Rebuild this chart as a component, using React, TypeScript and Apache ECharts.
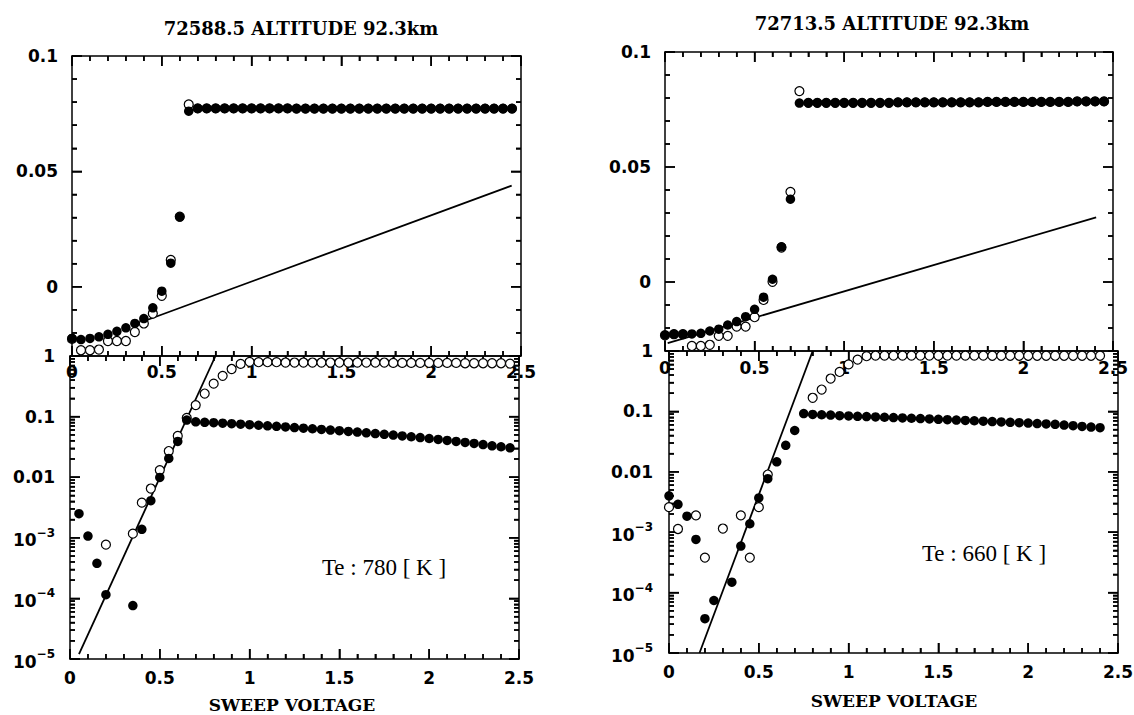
import React, { useEffect, useRef } from 'react';
import * as echarts from 'echarts';

// ---------- data ----------
const SWEEP = [0, 0.05, 0.1, 0.15, 0.2, 0.25, 0.3, 0.35, 0.4, 0.45, 0.5, 0.55, 0.6, 0.65, 0.7, 0.75, 0.8, 0.85, 0.9, 0.95,
  1, 1.05, 1.1, 1.15, 1.2, 1.25, 1.3, 1.35, 1.4, 1.45, 1.5, 1.55, 1.6, 1.65, 1.7, 1.75, 1.8, 1.85, 1.9, 1.95,
  2, 2.05, 2.1, 2.15, 2.2, 2.25, 2.3, 2.35, 2.4, 2.45];

const X_TICKS = [0, 0.5, 1, 1.5, 2, 2.5];
const X_MINOR = [0.1, 0.2, 0.3, 0.4, 0.6, 0.7, 0.8, 0.9, 1.1, 1.2, 1.3, 1.4, 1.6, 1.7, 1.8, 1.9, 2.1, 2.2, 2.3, 2.4];
const LIN_MAJOR = [0, 0.05, 0.1];
const LIN_MINOR = [-0.03, -0.02, -0.01, 0.01, 0.02, 0.03, 0.04, 0.06, 0.07, 0.08, 0.09];
const LOG_MAJOR = [1e-5, 1e-4, 1e-3, 0.01, 0.1, 1];
const LOG_MINOR: number[] = [];
for (let e = -5; e <= -1; e++) for (let m = 2; m <= 9; m++) LOG_MINOR.push(m * Math.pow(10, e));

const TITLE_L = '72588.5 ALTITUDE 92.3km';
const TITLE_R = '72713.5 ALTITUDE 92.3km';
const XNAME = 'SWEEP VOLTAGE';
const TE_L = 'Te : 780 [ K ]';
const TE_R = 'Te : 660 [ K ]';

// left column, linear panel
const TL_FILLED = [-0.0224, -0.0229, -0.0224, -0.0217, -0.0206, -0.0193, -0.0178, -0.0159, -0.0138, -0.0091, -0.0019, 0.0102, 0.0302, 0.0761,
  0.0773, 0.0773, 0.0773, 0.0773, 0.0773, 0.0773, 0.0773, 0.0773, 0.0773, 0.0773,
  0.0773, 0.0772, 0.0772, 0.0772, 0.0772, 0.0772, 0.0772, 0.0772, 0.0772, 0.0772,
  0.0772, 0.0772, 0.0772, 0.0772, 0.0772, 0.0772, 0.0772, 0.0772, 0.0772, 0.0772,
  0.0772, 0.0772, 0.0772, 0.0772, 0.0772, 0.0772];
const TL_OPEN = [-0.0226, -0.0275, -0.0275, -0.0272, -0.0235, -0.0235, -0.0235, -0.0196, -0.0159, -0.0116, -0.0039, 0.0116, 0.0304, 0.0790,
  0.0773, 0.0773, 0.0773, 0.0773, 0.0773, 0.0773, 0.0773, 0.0773, 0.0773, 0.0773,
  0.0773, 0.0772, 0.0772, 0.0772, 0.0772, 0.0772, 0.0772, 0.0772, 0.0772, 0.0772,
  0.0772, 0.0772, 0.0772, 0.0772, 0.0772, 0.0772, 0.0772, 0.0772, 0.0772, 0.0772,
  0.0772, 0.0772, 0.0772, 0.0772, 0.0772, 0.0772];
const TL_FIT_V = [0.414, 2.448];
const TL_FIT = [-0.0145, 0.0438];

// left column, log panel
const BL_FILLED = [null, 2.5e-3, 1.07e-3, 3.8e-4, 1.15e-4, null, null, 7.6e-5, 1.38e-3, 4.1e-3, 9.9e-3, 0.0204, 0.039, 0.0875,
  0.082, 0.0805, 0.0795, 0.078, 0.0765, 0.075,
  0.0735, 0.072, 0.0705, 0.069, 0.0675,
  0.066, 0.0645, 0.063, 0.0615, 0.060,
  0.0585, 0.057, 0.0555, 0.054, 0.0525,
  0.051, 0.0495, 0.048, 0.0465, 0.045,
  0.0435, 0.042, 0.0405, 0.039, 0.0375,
  0.036, 0.0345, 0.033, 0.0318, 0.0305];
const BL_OPEN = [null, null, null, null, 7.7e-4, null, null, 1.17e-3, 3.8e-3, 6.5e-3, 0.0131, 0.027, 0.048, 0.095,
  0.155, 0.24, 0.35, 0.47, 0.61, 0.74, 0.80,
  0.79, 0.79, 0.79, 0.78, 0.78, 0.78, 0.78, 0.78, 0.78, 0.78,
  0.78, 0.78, 0.78, 0.78, 0.78, 0.77, 0.77, 0.77, 0.77, 0.77,
  0.77, 0.77, 0.77, 0.76, 0.76, 0.76, 0.76, 0.76, 0.75];
const BL_FIT_V = [0.05, 0.81];
const BL_FIT = [1.2e-5, 1.0];

// right column, linear panel
const TR_FILLED = [-0.0230, -0.0227, -0.0227, -0.0226, -0.0223, -0.0213, -0.0205, -0.0187, -0.0172, -0.0151, -0.0119, -0.0066, 0.0012, 0.0153, 0.0360, 0.0778,
  0.0779, 0.0779, 0.0779, 0.0779, 0.0779, 0.0779, 0.0779, 0.0779, 0.0779, 0.0779,
  0.0781, 0.0781, 0.0781, 0.0781, 0.0781, 0.0781, 0.0781, 0.0781, 0.0781, 0.0781,
  0.0783, 0.0783, 0.0783, 0.0783, 0.0783, 0.0783, 0.0783, 0.0783, 0.0783, 0.0783,
  0.0785, 0.0785, 0.0785, 0.0785];
const TR_OPEN = [-0.0232, -0.0227, -0.0227, -0.0278, -0.0278, -0.0273, -0.0234, -0.0234, -0.0194, -0.0194, -0.0153, -0.0078, 0.0001, 0.0150, 0.0392, 0.0830,
  0.0779, 0.0779, 0.0779, 0.0779, 0.0779, 0.0779, 0.0779, 0.0779, 0.0779, 0.0779,
  0.0781, 0.0781, 0.0781, 0.0781, 0.0781, 0.0781, 0.0781, 0.0781, 0.0781, 0.0781,
  0.0783, 0.0783, 0.0783, 0.0783, 0.0783, 0.0783, 0.0783, 0.0783, 0.0783, 0.0783,
  0.0785, 0.0785, 0.0785, 0.0785];
const TR_FIT_V = [0.015, 2.406];
const TR_FIT = [-0.0266, 0.0281];

// right column, log panel
const BR_FILLED = [4.0e-3, 2.9e-3, 1.84e-3, 7.6e-4, 3.7e-5, 7.4e-5, null, 1.49e-4, 5.9e-4, 1.38e-3, 3.7e-3, 7.7e-3, 0.0146, 0.0275, 0.0483, 0.092,
  0.089, 0.088, 0.087, 0.085,
  0.084, 0.083, 0.082, 0.081, 0.080,
  0.079, 0.078, 0.077, 0.076, 0.075,
  0.074, 0.073, 0.072, 0.071, 0.070,
  0.069, 0.068, 0.067, 0.066, 0.065,
  0.064, 0.063, 0.062, 0.061, 0.0595,
  0.058, 0.0565, 0.055, 0.0537, null];
const BR_OPEN = [2.6e-3, 1.13e-3, null, 1.9e-3, 3.8e-4, null, 1.15e-3, null, 1.9e-3, 3.8e-4, 2.6e-3, 9.0e-3, null, null, null, null,
  0.168, 0.23, 0.35, 0.45, 0.6, 0.72, 0.82,
  0.84, 0.84, 0.84, 0.84, 0.84, 0.84, 0.84, 0.84, 0.84, 0.84, 0.84, 0.84, 0.84,
  0.835, 0.835, 0.835, 0.835, 0.835, 0.835, 0.835, 0.835, 0.835, 0.835, 0.835, 0.835, 0.835,
  null];
const BR_FIT_V = [0.17, 0.80];
const BR_FIT = [1e-5, 1.0];

// ---------- helpers ----------
const LINE = { color: '#000', width: 1.5 };
const TICK_FONT = { color: '#000', fontFamily: 'DejaVu Sans', fontWeight: 'bold', fontSize: 17 };
const lg = (v: number) => Math.log10(v);

function pairs(xs: number[], ys: (number | null)[], isLog: boolean) {
  const out: number[][] = [];
  xs.forEach((x, i) => {
    const y = ys[i];
    if (y !== null && y !== undefined) out.push([x, isLog ? lg(y) : y]);
  });
  return out;
}

function xAxes(grid: number, margin: number) {
  const base: any = {
    gridIndex: grid, type: 'value', min: 0, max: 2.5, interval: 0.5,
    splitLine: { show: false },
  };
  const main = (pos: string, withLabel: boolean) => ({
    ...base, position: pos,
    axisLine: { show: true, onZero: false, lineStyle: LINE },
    axisTick: { show: true, inside: true, length: 10, customValues: X_TICKS, lineStyle: LINE },
    axisLabel: withLabel
      ? { show: true, margin, showMinLabel: true, showMaxLabel: true, customValues: X_TICKS, ...TICK_FONT }
      : { show: false },
  });
  const minor = (pos: string) => ({
    ...base, position: pos,
    axisLine: { show: false, onZero: false },
    axisTick: { show: true, inside: true, length: 5, customValues: X_MINOR, lineStyle: LINE },
    axisLabel: { show: false },
  });
  return [main('bottom', true), minor('bottom'), main('top', false), minor('top')];
}

// log panels: the value axis runs in decades (log10 of the plotted quantity)
function logLabel(v: number) {
  const e = Math.round(v);
  if (e === 0) return '1';
  if (e === -1) return '0.1';
  if (e === -2) return '0.01';
  return '{b|10}{s|\u2212' + (-e) + '}';
}
function linLabel(v: number) {
  if (Math.abs(v) < 1e-9) return '0';
  return String(Math.round(v * 100) / 100);
}

function yAxes(grid: number, isLog: boolean, margin: number) {
  const common: any = isLog ? { type: 'value', min: lg(1e-5), max: lg(1) } : { type: 'value', min: -0.03, max: 0.1 };
  const major = isLog ? LOG_MAJOR.map(lg) : LIN_MAJOR;
  const minor = isLog ? LOG_MINOR.map(lg) : LIN_MINOR;
  const mk = (pos: string, withLabel: boolean) => [
    {
      gridIndex: grid, ...common, position: pos,
      splitLine: { show: false },
      axisLine: { show: true, onZero: false, lineStyle: LINE },
      axisTick: { show: true, inside: true, length: 10, customValues: major, lineStyle: LINE },
      axisLabel: withLabel ? {
        show: true, margin, customValues: major, ...TICK_FONT,
        formatter: isLog ? logLabel : linLabel,
        rich: {
          b: { fontFamily: 'DejaVu Sans', fontWeight: 'bold', fontSize: 17, color: '#000', lineHeight: 22, verticalAlign: 'bottom' },
          s: { fontFamily: 'DejaVu Sans', fontWeight: 'bold', fontSize: 12, color: '#000', lineHeight: 12, verticalAlign: 'top' },
        },
      } : { show: false },
    },
    {
      gridIndex: grid, ...common, position: pos,
      splitLine: { show: false },
      axisLine: { show: false, onZero: false },
      axisTick: { show: true, inside: true, length: 5, customValues: minor, lineStyle: LINE },
      axisLabel: { show: false },
    },
  ];
  return [...mk('left', true), ...mk('right', false)];
}

// tick marks on all four frame edges, placed through the grid's own coordinate system
function tickSeries(grid: number, isLog: boolean) {
  const yMin = isLog ? lg(1e-5) : -0.03;
  const yMax = isLog ? lg(1) : 0.1;
  const items: number[][] = [];
  X_TICKS.forEach((v) => items.push([0, v, 10]));
  X_MINOR.forEach((v) => items.push([0, v, 5]));
  (isLog ? LOG_MAJOR.map(lg) : LIN_MAJOR).forEach((v) => items.push([1, v, 10]));
  (isLog ? LOG_MINOR.map(lg) : LIN_MINOR).forEach((v) => items.push([1, v, 5]));
  return {
    type: 'custom', xAxisIndex: grid * 4, yAxisIndex: grid * 4, silent: true, z: 1,
    data: items,
    renderItem: (params: any, api: any) => {
      const kind = api.value(0);
      const v = api.value(1);
      const len = api.value(2);
      const style = { stroke: '#000', lineWidth: 1.5 };
      if (kind === 0) {
        const top = api.coord([v, yMax]);
        const bot = api.coord([v, yMin]);
        return {
          type: 'group', children: [
            { type: 'line', shape: { x1: top[0], y1: top[1], x2: top[0], y2: top[1] + len }, style },
            { type: 'line', shape: { x1: bot[0], y1: bot[1], x2: bot[0], y2: bot[1] - len }, style },
          ],
        };
      }
      const l = api.coord([0, v]);
      const r = api.coord([2.5, v]);
      return {
        type: 'group', children: [
          { type: 'line', shape: { x1: l[0], y1: l[1], x2: l[0] + len, y2: l[1] }, style },
          { type: 'line', shape: { x1: r[0], y1: r[1], x2: r[0] - len, y2: r[1] }, style },
        ],
      };
    },
  };
}

function panelSeries(grid: number, isLog: boolean, open: (number | null)[], filled: (number | null)[], fitV: number[], fit: number[]) {
  const xi = grid * 4;
  const yi = grid * 4;
  return [
    tickSeries(grid, isLog),
    { type: 'line', xAxisIndex: xi, yAxisIndex: yi, data: pairs(fitV, fit, isLog), showSymbol: false, symbol: 'none', clip: false,
      lineStyle: { color: '#000', width: 1.8 }, z: 2, silent: true },
    { type: 'scatter', xAxisIndex: xi, yAxisIndex: yi, data: pairs(SWEEP, open, isLog), symbol: 'circle', symbolSize: 9, clip: false,
      itemStyle: { color: '#fff', borderColor: '#000', borderWidth: 1.2, opacity: 1 }, z: 3, silent: true },
    { type: 'scatter', xAxisIndex: xi, yAxisIndex: yi, data: pairs(SWEEP, filled, isLog), symbol: 'circle', symbolSize: 9.5, clip: false,
      itemStyle: { color: '#000', opacity: 1 }, z: 4, silent: true },
  ];
}

function txt(text: string, x: number, y: number, font: string) {
  return { type: 'text', x, y, silent: true, style: { text, font, fill: '#000', textAlign: 'center', textVerticalAlign: 'middle', align: 'center', verticalAlign: 'middle' } };
}

export default function App() {
  const ref = useRef<HTMLDivElement>(null);
  useEffect(() => {
    if (!ref.current) return;
    const chart = echarts.init(ref.current, undefined, { renderer: 'svg' });
    const titleFont = 'bold 18px "DejaVu Serif"';
    const nameFont = 'bold 17px "DejaVu Serif"';
    const teFont = '23px "Liberation Serif"';
    const option: any = {
      animation: false,
      backgroundColor: '#fff',
      grid: [
        { left: 72, top: 56, width: 449, height: 300, outerBoundsMode: 'none' },
        { left: 70, top: 356, width: 449, height: 303, outerBoundsMode: 'none' },
        { left: 665, top: 52, width: 448, height: 299, outerBoundsMode: 'none' },
        { left: 669, top: 351, width: 449, height: 302, outerBoundsMode: 'none' },
      ],
      xAxis: [...xAxes(0, 7), ...xAxes(1, 10), ...xAxes(2, 8), ...xAxes(3, 10)],
      yAxis: [...yAxes(0, false, 14), ...yAxes(1, true, 15), ...yAxes(2, false, 14), ...yAxes(3, true, 16)],
      series: [
        ...panelSeries(0, false, TL_OPEN, TL_FILLED, TL_FIT_V, TL_FIT),
        ...panelSeries(1, true, BL_OPEN, BL_FILLED, BL_FIT_V, BL_FIT),
        ...panelSeries(2, false, TR_OPEN, TR_FILLED, TR_FIT_V, TR_FIT),
        ...panelSeries(3, true, BR_OPEN, BR_FILLED, BR_FIT_V, BR_FIT),
      ],
      graphic: [
        txt(TITLE_L, 301, 28, titleFont),
        txt(TITLE_R, 892, 23, titleFont),
        txt(XNAME, 292, 705, nameFont),
        txt(XNAME, 894, 701, nameFont),
        txt(TE_L, 384, 567, teFont),
        txt(TE_R, 984, 553, teFont),
      ],
    };
    chart.setOption(option);
    return () => chart.dispose();
  }, []);
  return <div ref={ref} style={{ position: 'absolute', left: 0, top: 0, width: 1134, height: 715, background: '#fff' }} />;
}
